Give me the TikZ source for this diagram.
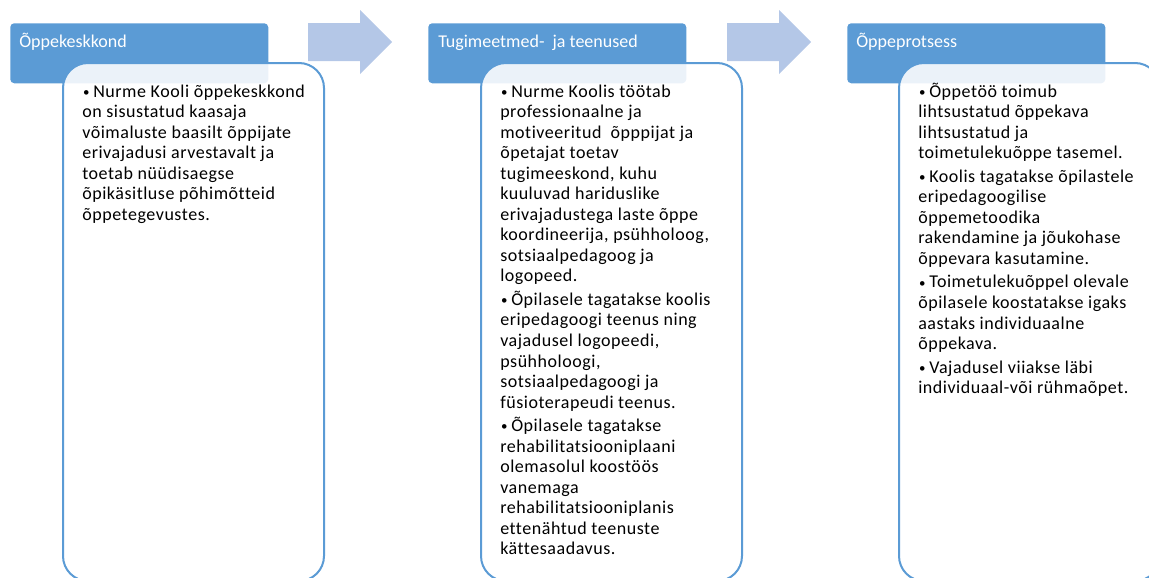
\documentclass[tikz,border=0pt]{standalone}
\usepackage{fontspec}
\usepackage{graphicx}
\setmainfont{Carlito}[Ligatures=NoCommon]
\newfontfamily\bodyfam{Carlito}[Ligatures=NoCommon, LetterSpace=3]
\definecolor{hdrblue}{RGB}{91,155,213}
\definecolor{arrblue}{RGB}{180,199,231}
\newcommand{\bodyfnt}{\bodyfam\fontsize{13.5}{15.4}\selectfont}
\newcommand{\bul}{\noindent\hangindent=8.25pt\hangafter=1\makebox[8.25pt][l]{\hspace{0.6pt}\raisebox{0.6pt}{\scalebox{0.72}{•}}}}
\newcommand{\bodybox}[1]{\parbox[t]{190pt}{\raggedright\setlength{\parskip}{2.3pt}#1}}
\tikzset{
  hdr/.style={fill=hdrblue, rounded corners=3pt, minimum width=193.5pt, minimum height=45pt, inner sep=0pt, anchor=north west},
  hdrtext/.style={text=white, font=\fontsize{13.5}{16}\selectfont, anchor=base west, inner sep=0pt},
  tbox/.style={draw=hdrblue, line width=1.5pt, fill=white, fill opacity=0.88, rounded corners=18.75pt, minimum width=195.75pt, minimum height=388.5pt, anchor=north west, inner sep=0pt},
  body/.style={anchor=base west, inner sep=0pt, font=\bodyfnt, text=black},
  blockarrow/.style={fill=arrblue}
}
\begin{document}
\begin{tikzpicture}[x=0.75pt,y=-0.75pt]
\useasboundingbox (0,0) rectangle (1149,578);
\clip (0,0) rectangle (1149,578);
% block arrows
\fill[blockarrow] (308,23) -- (360,23) -- (360,10) -- (392,42) -- (360,74) -- (360,61) -- (308,61) -- cycle;
\fill[blockarrow] (727,23) -- (779,23) -- (779,10) -- (811,42) -- (779,74) -- (779,61) -- (727,61) -- cycle;
% headers
\node[hdr] (h1) at (10,23) {};
\node[hdr] (h2) at (428,23) {};
\node[hdr] (h3) at (847,23) {};
\node[hdrtext] (h1t) at (19,47) {Õppekeskkond};
\node[hdrtext] (h2t) at (438,47) {Tugimeetmed-\ \ ja teenused};
\node[hdrtext] (h3t) at (856,47) {Õppeprotsess};
% text boxes
\node[tbox] (b1) at (62,62) {};
\node[tbox] (b2) at (480,62) {};
\node[tbox] (b3) at (898,62) {};
% texts
\node[body] (t1) at (82,97) {\bodybox{%
\bul Nurme Kooli õppekeskkond\\on sisustatud kaasaja\\võimaluste baasilt õppijate\\erivajadusi arvestavalt ja\\toetab nüüdisaegse\\õpikäsitluse põhimõtteid\\õppetegevustes.\par}};
\node[body] (t2) at (500,97) {\bodybox{%
\bul Nurme Koolis töötab\\professionaalne ja\\motiveeritud\ \ õpppijat ja\\õpetajat toetav\\tugimeeskond, kuhu\\kuuluvad hariduslike\\erivajadustega laste õppe\\koordineerija, psühholoog,\\sotsiaalpedagoog ja\\logopeed.\par
\bul Õpilasele tagatakse koolis\\eripedagoogi teenus ning\\vajadusel logopeedi,\\psühholoogi,\\sotsiaalpedagoogi ja\\füsioterapeudi teenus.\par
\bul Õpilasele tagatakse\\rehabilitatsiooniplaani\\olemasolul koostöös\\vanemaga\\rehabilitatsiooniplanis\\ettenähtud teenuste\\kättesaadavus.\par}};
\node[body] (t3) at (918,97) {\bodybox{%
\bul Õppetöö toimub\\lihtsustatud õppekava\\lihtsustatud ja\\toimetulekuõppe tasemel.\par
\bul Koolis tagatakse õpilastele\\eripedagoogilise\\õppemetoodika\\rakendamine ja jõukohase\\õppevara kasutamine.\par
\bul Toimetulekuõppel olevale\\õpilasele koostatakse igaks\\aastaks individuaalne\\õppekava.\par
\bul Vajadusel viiakse läbi\\individuaal-või rühmaõpet.\par}};
\end{tikzpicture}
\end{document}
